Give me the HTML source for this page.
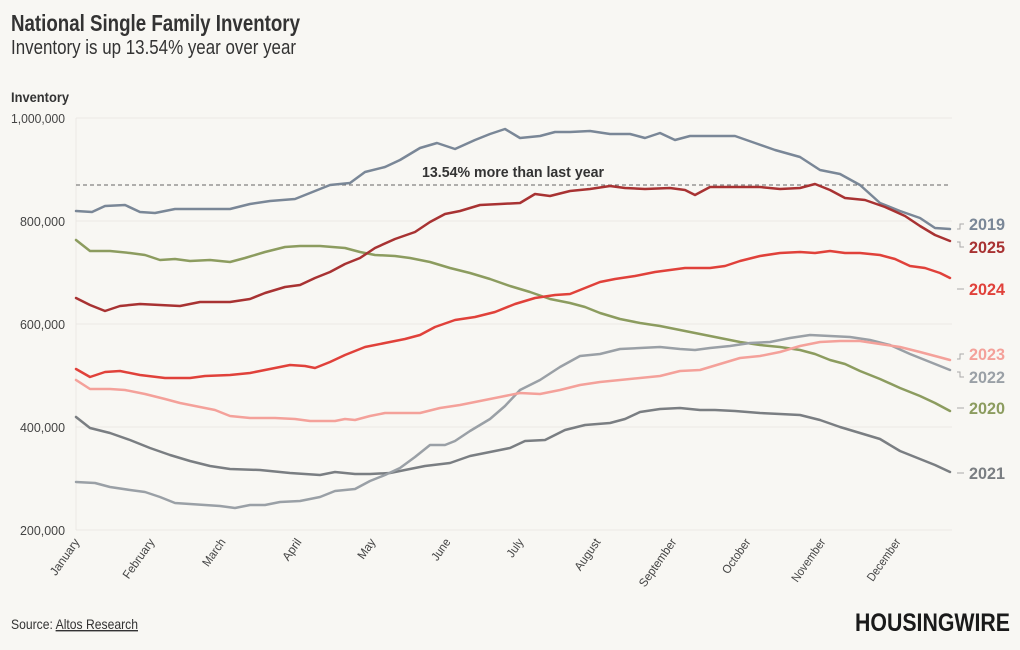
<!DOCTYPE html>
<html><head><meta charset="utf-8"><style>
body{margin:0;background:#f8f7f3;}
svg{display:block;font-family:"Liberation Sans",sans-serif;}
</style></head><body>
<svg width="1020" height="650" viewBox="0 0 1020 650" xmlns="http://www.w3.org/2000/svg">
<rect width="1020" height="650" fill="#f8f7f3"/>
<text x="11" y="31" font-size="23" font-weight="bold" fill="#333" textLength="289" lengthAdjust="spacingAndGlyphs">National Single Family Inventory</text>
<text x="11" y="54" font-size="20" fill="#333" textLength="285" lengthAdjust="spacingAndGlyphs">Inventory is up 13.54% year over year</text>
<text x="11" y="102" font-size="14" font-weight="bold" fill="#333" textLength="58" lengthAdjust="spacingAndGlyphs">Inventory</text>
<g stroke="#ebe9e4" stroke-width="1">
<line x1="76" y1="118" x2="952" y2="118"/><line x1="76" y1="221" x2="952" y2="221"/>
<line x1="76" y1="324" x2="952" y2="324"/><line x1="76" y1="427" x2="952" y2="427"/>
<line x1="76" y1="530" x2="952" y2="530"/>
<line x1="76" y1="118" x2="76" y2="530"/>
</g>
<g font-size="13" fill="#444" text-anchor="end" lengthAdjust="spacingAndGlyphs">
<text x="65" y="123" textLength="54" lengthAdjust="spacingAndGlyphs">1,000,000</text><text x="65" y="226" textLength="45" lengthAdjust="spacingAndGlyphs">800,000</text>
<text x="65" y="329" textLength="45" lengthAdjust="spacingAndGlyphs">600,000</text><text x="65" y="432" textLength="45" lengthAdjust="spacingAndGlyphs">400,000</text><text x="65" y="535" textLength="45" lengthAdjust="spacingAndGlyphs">200,000</text>
</g>
<g font-size="12" fill="#444" text-anchor="end">
<text transform="translate(80,542) rotate(-55)" textLength="42" lengthAdjust="spacingAndGlyphs">January</text>
<text transform="translate(155,542) rotate(-55)" textLength="46" lengthAdjust="spacingAndGlyphs">February</text>
<text transform="translate(226,542) rotate(-55)" textLength="31" lengthAdjust="spacingAndGlyphs">March</text>
<text transform="translate(302,542) rotate(-55)" textLength="24" lengthAdjust="spacingAndGlyphs">April</text>
<text transform="translate(376,542) rotate(-55)" textLength="22" lengthAdjust="spacingAndGlyphs">May</text>
<text transform="translate(451,542) rotate(-55)" textLength="24" lengthAdjust="spacingAndGlyphs">June</text>
<text transform="translate(524,542) rotate(-55)" textLength="20" lengthAdjust="spacingAndGlyphs">July</text>
<text transform="translate(601,542) rotate(-55)" textLength="36" lengthAdjust="spacingAndGlyphs">August</text>
<text transform="translate(677,542) rotate(-55)" textLength="56" lengthAdjust="spacingAndGlyphs">September</text>
<text transform="translate(751,542) rotate(-55)" textLength="40" lengthAdjust="spacingAndGlyphs">October</text>
<text transform="translate(826,542) rotate(-55)" textLength="50" lengthAdjust="spacingAndGlyphs">November</text>
<text transform="translate(901,542) rotate(-55)" textLength="49" lengthAdjust="spacingAndGlyphs">December</text>
</g>
<line x1="76" y1="185" x2="950" y2="185" stroke="#666" stroke-dasharray="4,3" stroke-width="1"/>
<text x="422" y="177" font-size="15" font-weight="bold" fill="#333" textLength="182" lengthAdjust="spacingAndGlyphs">13.54% more than last year</text>
<g fill="none" stroke-width="2.5" stroke-linejoin="round" stroke-linecap="round">
<polyline stroke="#7a7e82" points="76,417 90,428 110,433 130,440 150,448 170,455 190,461 210,466 230,469 260,470 290,473 320,475 335,472 355,474 370,474 390,473 410,469 425,466 450,463 470,456 490,452 510,448 525,441 545,440 565,430 585,425 610,423 625,419 640,412 660,409 680,408 700,410 715,410 735,411 760,413 780,414 800,415 820,420 840,427 860,433 880,439 900,451 920,459 935,465 950,472"/>
<polyline stroke="#8c9c5f" points="76,240 90,251 110,251 130,253 145,255 160,260 175,259 190,261 210,260 230,262 245,258 265,252 285,247 300,246 320,246 345,248 360,252 375,255 395,256 410,258 430,262 450,268 470,273 490,279 510,286 530,292 550,299 570,303 585,307 600,313 620,319 640,323 660,326 680,330 700,334 720,338 740,342 760,345 780,347 800,350 815,354 830,360 845,364 860,371 880,379 900,388 920,396 935,403 950,411"/>
<polyline stroke="#9aa0a6" points="76,482 95,483 110,487 130,490 145,492 160,497 175,503 190,504 205,505 220,506 235,508 250,505 265,505 280,502 300,501 320,497 335,491 355,489 370,481 385,475 400,468 415,457 430,445 445,445 455,441 470,431 490,419 505,406 520,390 540,380 560,367 580,356 600,354 620,349 640,348 660,347 680,349 695,350 710,348 730,346 750,343 770,342 790,338 810,335 830,336 850,337 870,340 890,345 910,354 930,362 950,370"/>
<polyline stroke="#f4a19a" points="76,380 90,389 110,389 125,390 145,394 165,399 180,403 195,406 215,410 230,416 250,418 275,418 295,419 310,421 320,421 335,421 345,419 355,420 370,416 385,413 400,413 420,413 440,408 460,405 480,401 500,397 520,393 540,394 560,390 580,385 600,382 620,380 640,378 660,376 680,371 700,370 720,364 740,358 760,356 780,352 800,346 820,342 840,341 860,341 880,344 900,347 920,352 935,356 950,360"/>
<polyline stroke="#e0413a" points="76,369 90,377 105,372 120,371 140,375 165,378 190,378 205,376 230,375 250,373 270,369 290,365 305,366 315,368 330,362 345,355 365,347 385,343 405,339 420,335 435,327 455,320 475,317 495,312 515,304 535,298 555,295 570,294 585,288 600,282 615,279 635,276 655,272 670,270 685,268 710,268 725,266 740,261 760,256 780,253 800,252 815,253 830,251 845,253 860,253 880,255 895,259 910,266 925,268 940,273 950,278"/>
<polyline stroke="#7a8797" points="76,211 92,212 105,206 125,205 140,212 155,213 175,209 200,209 230,209 250,204 270,201 295,199 310,193 330,185 350,183 365,172 385,167 400,160 420,148 437,143 455,149 475,140 490,134 505,129 520,138 540,136 555,132 570,132 590,131 610,134 630,134 645,138 660,133 675,140 690,136 710,136 735,136 755,143 775,150 800,157 820,170 840,174 860,185 880,203 900,211 920,218 935,228 950,229"/>
<polyline stroke="#a83232" points="76,298 90,305 105,311 120,306 140,304 160,305 180,306 200,302 230,302 250,299 265,293 285,287 300,285 315,278 330,272 345,264 360,258 375,248 395,239 415,232 430,222 445,214 460,211 480,205 500,204 520,203 535,194 550,196 570,191 590,189 610,186 625,188 645,189 670,188 685,190 695,195 710,187 735,187 760,187 780,189 800,188 815,184 830,190 845,198 865,200 885,207 905,216 920,226 935,235 950,241"/>
</g>
<g fill="none" stroke="#aaa" stroke-width="1">
<polyline points="957,229 960,229 960,224 964,224"/>
<polyline points="957,242 960,242 960,247 964,247"/>
<line x1="957" y1="289" x2="964" y2="289"/>
<polyline points="957,359 960,359 960,354 964,354"/>
<polyline points="957,372 960,372 960,377 964,377"/>
<line x1="957" y1="408" x2="964" y2="408"/>
<line x1="957" y1="473" x2="964" y2="473"/>
</g>
<g font-size="17" font-weight="bold">
<text x="969" y="230" fill="#7a8797" textLength="36" lengthAdjust="spacingAndGlyphs">2019</text>
<text x="969" y="253" fill="#a83232" textLength="36" lengthAdjust="spacingAndGlyphs">2025</text>
<text x="969" y="295" fill="#e0413a" textLength="36" lengthAdjust="spacingAndGlyphs">2024</text>
<text x="969" y="360" fill="#f4a19a" textLength="36" lengthAdjust="spacingAndGlyphs">2023</text>
<text x="969" y="383" fill="#9aa0a6" textLength="36" lengthAdjust="spacingAndGlyphs">2022</text>
<text x="969" y="414" fill="#8c9c5f" textLength="36" lengthAdjust="spacingAndGlyphs">2020</text>
<text x="969" y="479" fill="#7a7e82" textLength="36" lengthAdjust="spacingAndGlyphs">2021</text>
</g>
<text x="11" y="629" font-size="14" fill="#333" textLength="127" lengthAdjust="spacingAndGlyphs">Source: <tspan text-decoration="underline">Altos Research</tspan></text>
<text x="855" y="631" font-size="25" font-weight="bold" fill="#1a1a1a" textLength="155" lengthAdjust="spacingAndGlyphs">HOUSINGWIRE</text>
</svg>
</body></html>
